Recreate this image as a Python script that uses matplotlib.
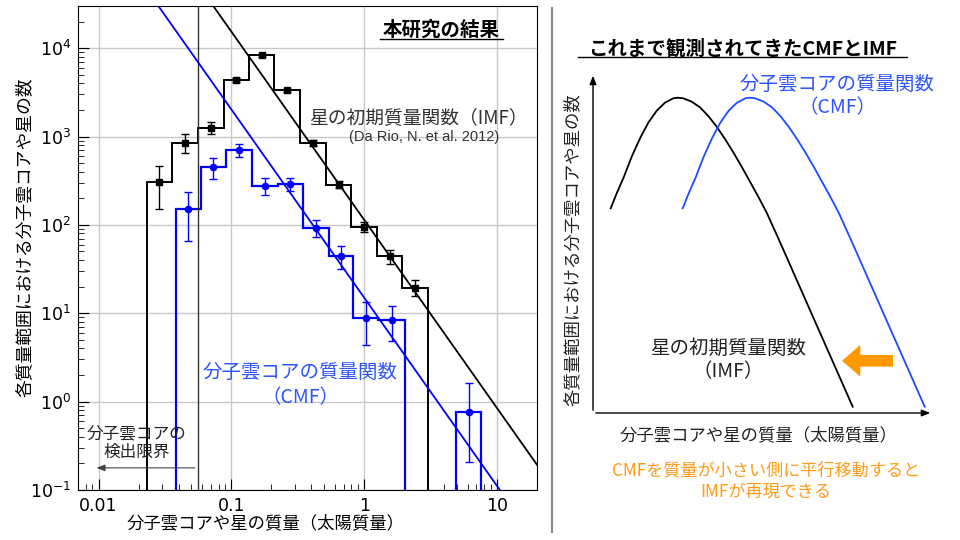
import matplotlib
matplotlib.use("Agg")
import matplotlib.pyplot as plt
import numpy as np
from matplotlib import ticker
from matplotlib.lines import Line2D
from matplotlib.patches import FancyArrow

JP = ["Noto Sans CJK JP", "DejaVu Sans"]

# 星の初期質量関数 (IMF, Da Rio et al. 2012)
imf_edges = [0.023, 0.0358, 0.0558, 0.0875, 0.136, 0.21, 0.33, 0.515, 0.80, 1.24, 1.94, 3.01]
imf_counts = [308, 853, 1262, 4407, 8330, 3340, 848, 285, 95, 44, 19.5]
imf_err = [155, 205, 195, 230, 300, 150, 70, 25, 12, 8, 4]

# 分子雲コアの質量関数 (CMF, 本研究)
cmf_edges = [0.038, 0.059, 0.091, 0.143, 0.223, 0.344, 0.54, 0.826, 1.27, 2.03, 4.9, 7.6]
cmf_counts = [150, 449, 700, 278, 292, 93, 44.8, 8.9, 8.5, 0, 0.76]
cmf_err_lo = [85, 120, 118, 60, 50, 20, 13, 4.5, 3.6, 0, 0.55]
cmf_err_hi = [85, 120, 118, 60, 50, 20, 13, 4.5, 3.6, 0, 0.85]

# べき乗則 N = norm * M^slope
fit_slope = -2.13
imf_norm = 114.0
cmf_norm = 15.0
fit_range = [0.007, 20.0]

detect_limit = 0.0558

# 右の模式図 (任意単位)
imf_sketch_x = [17.7, 23.7, 30.3, 38.7, 47, 55.3, 63.7, 72, 80.3, 84.7, 90.3, 98.7, 107,
                115.3, 123.7, 132, 140.3, 148.7, 157, 165.3, 173.7, 185.3, 259.7]
cmf_sketch_x = [89.7, 95.7, 102.3, 110.7, 119, 127.3, 135.7, 144, 152.3, 156.7, 162.3, 170.7, 179,
                187.3, 195.7, 204, 212.3, 220.7, 229, 237.3, 245.7, 257.3, 331.7]
sketch_y = [204.7, 219.7, 234.7, 256.3, 274.7, 290.3, 302.3, 310.3, 314.7, 315.3, 314.7, 311.3, 305.7,
            297, 286.3, 274, 260.7, 246.3, 231.3, 216.3, 200.3, 174.7, 6.3]

BLUE = "#0000ff"
BLUE_TXT = "#2f55ff"
ORANGE = "#ff9a14"

fig = plt.figure(figsize=(9.6, 5.4), dpi=100)

# ---------------- 左: 本研究の結果 ----------------
ax = fig.add_axes([78 / 960, 50 / 540, 459 / 960, 484 / 540])
ax.set_xscale("log")
ax.set_yscale("log")
ax.set_xlim(0.007, 20)
ax.set_ylim(0.1, 3e4)
ax.grid(True, which="major", color="#c8c8c8", lw=1)
ax.set_axisbelow(True)

ax.axvline(detect_limit, color="#333333", lw=1)

ax.stairs(imf_counts, imf_edges, baseline=1e-3, color="black", lw=1.4)
ax.stairs(cmf_counts, cmf_edges, baseline=1e-3, color=BLUE, lw=1.6)

ie = np.asarray(imf_edges)
ce = np.asarray(cmf_edges)
imf_mid = np.sqrt(ie[:-1] * ie[1:])
cmf_mid = np.sqrt(ce[:-1] * ce[1:])
cc = np.asarray(cmf_counts)
ok = cc > 0

ax.errorbar(imf_mid, imf_counts, yerr=imf_err, fmt="s", color="black", ms=4.5,
            elinewidth=1, capsize=3)
ax.errorbar(cmf_mid[ok], cc[ok],
            yerr=[np.asarray(cmf_err_lo)[ok], np.asarray(cmf_err_hi)[ok]],
            fmt="o", color=BLUE, ms=4.5, elinewidth=1, capsize=3)

fx = np.asarray(fit_range)
ax.plot(fx, imf_norm * fx ** fit_slope, color="black", lw=1.3)
ax.plot(fx, cmf_norm * fx ** fit_slope, color=BLUE, lw=1.3)

ax.xaxis.set_major_formatter(ticker.FuncFormatter(lambda v, _: f"{v:g}"))
ax.tick_params(which="both", direction="in", top=False, right=False, labelsize=12.5, pad=5)
ax.tick_params(which="major", length=8)
ax.tick_params(which="minor", length=4)

ax.set_xlabel("分子雲コアや星の質量（太陽質量）", family=JP, fontsize=12.5, va="center")
ax.xaxis.set_label_coords((266 - 78) / 459, (490 - 523) / 484)
ax.set_ylabel("各質量範囲における分子雲コアや星の数", family=JP, fontsize=12.8, va="center")
ax.yaxis.set_label_coords((25 - 78) / 459, (490 - 237) / 484)

ax.annotate("", xy=(0.0092, 0.178), xytext=(detect_limit, 0.178),
            arrowprops=dict(arrowstyle="-|>,head_length=0.5,head_width=0.2", color="#444444", lw=0.8))
ax.text(0.0193, 0.34, "分子雲コアの\n検出限界", family=JP, fontsize=12, color="#222222",
        ha="center", va="center", linespacing=1.15)

ax.text(0.33, 1.54, "分子雲コアの質量関数\n（CMF）", family=JP, fontsize=14, color=BLUE_TXT,
        ha="center", va="center", linespacing=1.2)

fig.text(418 / 960, 1 - 118 / 540, "星の初期質量関数（IMF）", family=JP, fontsize=13.5,
         color="#333333", ha="center", va="center")
fig.text(424 / 960, 1 - 137 / 540, "(Da Rio, N. et al. 2012)", family=["Liberation Sans"], fontsize=10.5,
         color="#333333", ha="center", va="center")

fig.text(441 / 960, 1 - 30 / 540, "本研究の結果", family=JP, fontsize=14, fontweight="bold",
         ha="center", va="center")
fig.add_artist(Line2D([380 / 960, 503 / 960], [1 - 39 / 540, 1 - 39 / 540], color="black", lw=1))

# 区切り線
fig.add_artist(Line2D([552 / 960, 552 / 960], [1 - 8 / 540, 1 - 532 / 540], color="#888888", lw=1.5))

# ---------------- 右: これまでの観測 (模式図) ----------------
bx = fig.add_axes([593 / 960, (540 - 413) / 540, 340 / 960, 340 / 540])
bx.set_xlim(0, 340)
bx.set_ylim(0, 340)
bx.axis("off")
bx.annotate("", xy=(0, 340), xytext=(0, 0),
            arrowprops=dict(arrowstyle="-|>,head_length=0.5,head_width=0.2", color="black", lw=1))
bx.annotate("", xy=(340, 0), xytext=(0, 0),
            arrowprops=dict(arrowstyle="-|>,head_length=0.5,head_width=0.2", color="black", lw=1))
bx.plot(imf_sketch_x, sketch_y, color="black", lw=1.3)
bx.plot(cmf_sketch_x, sketch_y, color="#1a4dff", lw=1.3)
bx.add_patch(FancyArrow(300, 52.2, -51, 0, width=11.7, head_width=31.7, head_length=18.3,
                        length_includes_head=True, color="#ff9900", lw=0))

fig.text(743 / 960, 1 - 49 / 540, "これまで観測されてきたCMFとIMF", family=JP, fontsize=14,
         fontweight="bold", ha="center", va="center")
fig.add_artist(Line2D([578 / 960, 907 / 960], [1 - 57 / 540, 1 - 57 / 540], color="black", lw=1))

fig.text(837 / 960, 1 - 96 / 540, "分子雲コアの質量関数\n（CMF）", family=JP, fontsize=14,
         color=BLUE_TXT, ha="center", va="center", linespacing=1.15)
fig.text(728 / 960, 1 - 360 / 540, "星の初期質量関数\n（IMF）", family=JP, fontsize=14,
         color="#222222", ha="center", va="center", linespacing=1.15)
fig.text(573 / 960, 1 - 250 / 540, "各質量範囲における分子雲コアや星の数", family=JP, fontsize=12.5,
         rotation=90, ha="center", va="center", color="#222222")
fig.text(759 / 960, 1 - 435 / 540, "分子雲コアや星の質量（太陽質量）", family=JP, fontsize=12.5,
         ha="center", va="center", color="#222222")
fig.text(766 / 960, 1 - 481 / 540, "CMFを質量が小さい側に平行移動すると\nIMFが再現できる", family=JP,
         fontsize=12.3, color=ORANGE, ha="center", va="center", linespacing=1.2)

fig.savefig("out.png", dpi=100)
